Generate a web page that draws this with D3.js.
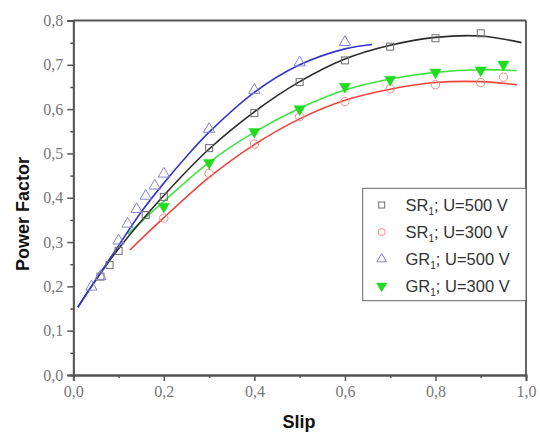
<!DOCTYPE html>
<html><head><meta charset="utf-8">
<script src="https://cdn.jsdelivr.net/npm/d3@7"></script>
<style>body{margin:0;background:#fff}svg{display:block}</style>
</head><body>
<svg id="c" width="540" height="437"></svg>
<script>
// ---- data ----
const xTicks = [0, 0.2, 0.4, 0.6, 0.8, 1.0];
const yTicks = [0, 0.1, 0.2, 0.3, 0.4, 0.5, 0.6, 0.7, 0.8];
const xTickLabels = ["0,0","0,2","0,4","0,6","0,8","1,0"];
const yTickLabels = ["0,0","0,1","0,2","0,3","0,4","0,5","0,6","0,7","0,8"];

const sr500X = [0.06,0.08,0.10,0.16,0.20,0.30,0.40,0.50,0.60,0.70,0.80,0.90];
const sr500Y = [0.222,0.248,0.280,0.361,0.402,0.512,0.591,0.661,0.710,0.741,0.760,0.771];
const sr300X = [0.20,0.30,0.40,0.50,0.60,0.70,0.80,0.90,0.95];
const sr300Y = [0.354,0.455,0.521,0.583,0.617,0.646,0.655,0.660,0.672];
const gr500X = [0.04,0.06,0.10,0.12,0.14,0.16,0.18,0.20,0.30,0.40,0.50,0.60];
const gr500Y = [0.199,0.223,0.303,0.341,0.374,0.404,0.427,0.454,0.555,0.643,0.705,0.751];
const gr300X = [0.20,0.30,0.40,0.50,0.60,0.70,0.80,0.90,0.95];
const gr300Y = [0.380,0.479,0.549,0.600,0.651,0.667,0.683,0.688,0.701];

// fitted curves
const fitSr500X = [0.01,0.05,0.10,0.20,0.30,0.40,0.50,0.60,0.70,0.80,0.90,0.99];
const fitSr500Y = [0.153,0.215,0.285,0.405,0.510,0.594,0.662,0.713,0.744,0.762,0.765,0.750];
const fitSr300X = [0.125,0.20,0.30,0.40,0.50,0.60,0.70,0.80,0.90,0.98];
const fitSr300Y = [0.282,0.355,0.446,0.520,0.578,0.620,0.645,0.660,0.662,0.655];
const fitGr500X = [0.01,0.05,0.10,0.15,0.20,0.25,0.30,0.40,0.50,0.60,0.66];
const fitGr500Y = [0.153,0.215,0.292,0.368,0.433,0.493,0.548,0.638,0.700,0.736,0.746];
const fitGr300X = [0.12,0.20,0.30,0.40,0.50,0.60,0.70,0.80,0.90,0.98];
const fitGr300Y = [0.318,0.392,0.480,0.548,0.602,0.643,0.668,0.683,0.689,0.687];

const legendLabels = [["SR","; U=500 V"],["SR","; U=300 V"],["GR","; U=500 V"],["GR","; U=300 V"]];

// ---- drawing ----
const svg = d3.select("#c");
const L = 73.3, R = 526, T = 20.5, B = 375;
const x = d3.scaleLinear().domain([0,1]).range([L,R]);
const y = d3.scaleLinear().domain([0,0.8]).range([B,T]);
const axisCol = "#555";
const tickFont = "'Liberation Serif','DejaVu Serif',serif";

// curves
const line = d3.line().x(d=>x(d[0])).y(d=>y(d[1])).curve(d3.curveCatmullRom.alpha(0.5));
const zip = (a,b)=>a.map((v,i)=>[v,b[i]]);
const curves = [
  [fitSr300X, fitSr300Y, "#e8453c"],
  [fitGr300X, fitGr300Y, "#44e044"],
  [fitSr500X, fitSr500Y, "#2a2a2a"],
  [fitGr500X, fitGr500Y, "#3535c8"]
];
curves.forEach(([xs,ys,c])=>{
  svg.append("path").attr("d", line(zip(xs,ys))).attr("fill","none")
     .attr("stroke", c).attr("stroke-width", 1.6);
});

// markers
function drawSquares(gg, pts, s){
  gg.selectAll(null).data(pts).enter().append("rect")
    .attr("x",d=>x(d[0])-s/2).attr("y",d=>y(d[1])-s/2)
    .attr("width",s).attr("height",s)
    .attr("fill","none").attr("stroke","#6f6f6f").attr("stroke-width",1);
}
function drawCircles(gg, pts, r){
  gg.selectAll(null).data(pts).enter().append("circle")
    .attr("cx",d=>x(d[0])).attr("cy",d=>y(d[1])).attr("r",r)
    .attr("fill","none").attr("stroke","#f08a8a").attr("stroke-width",1);
}
function drawTriUp(gg, pts, sz){
  const sym = d3.symbol().type(d3.symbolTriangle).size(sz);
  gg.selectAll(null).data(pts).enter().append("path")
    .attr("d", sym).attr("transform",d=>`translate(${x(d[0])},${y(d[1])})`)
    .attr("fill","none").attr("stroke","#8585d0").attr("stroke-width",1);
}
function drawTriDown(gg, pts, sz){
  const sym = d3.symbol().type(d3.symbolTriangle).size(sz);
  gg.selectAll(null).data(pts).enter().append("path")
    .attr("d", sym).attr("transform",d=>`translate(${x(d[0])},${y(d[1])}) rotate(180)`)
    .attr("fill","#1fdc1f").attr("stroke","#1fdc1f").attr("stroke-width",0.5);
}
const g = svg.append("g");
drawSquares(g, zip(sr500X, sr500Y), 7);
drawCircles(g, zip(sr300X, sr300Y), 4.2);
drawTriUp(g, zip(gr500X, gr500Y), 55);
drawTriDown(g, zip(gr300X, gr300Y), 55);

// axes
const xAxis = d3.axisBottom(x).tickValues(xTicks).tickSize(6).tickPadding(5)
  .tickFormat((d,i)=>xTickLabels[i]);
const yAxis = d3.axisLeft(y).tickValues(yTicks).tickSize(6).tickPadding(4)
  .tickFormat((d,i)=>yTickLabels[i]);
const xMinor = d3.axisBottom(x).tickValues(d3.range(0.1,1,0.2)).tickSize(3).tickFormat("");
const yMinor = d3.axisLeft(y).tickValues(d3.range(0.05,0.8,0.1)).tickSize(3).tickFormat("");

function style(sel){
  sel.selectAll("path.domain").attr("stroke",axisCol).attr("stroke-width",1.8);
  sel.selectAll(".tick line").attr("stroke",axisCol).attr("stroke-width",1.5);
  sel.selectAll(".tick text").attr("fill","#777").attr("font-family",tickFont).attr("font-size",16);
}
svg.append("g").attr("transform",`translate(0,${B})`).call(xMinor).call(style);
svg.append("g").attr("transform",`translate(${L},0)`).call(yMinor).call(style);
svg.append("g").attr("transform",`translate(0,${B})`).call(xAxis).call(style);
svg.append("g").attr("transform",`translate(${L},0)`).call(yAxis).call(style);
// top & right frame
svg.append("line").attr("x1",L).attr("x2",R).attr("y1",T).attr("y2",T).attr("stroke",axisCol).attr("stroke-width",1.8);
svg.append("line").attr("x1",R).attr("x2",R).attr("y1",T).attr("y2",B).attr("stroke",axisCol).attr("stroke-width",1.8);

// titles
svg.append("text").attr("x",299).attr("y",428).attr("text-anchor","middle")
  .attr("font-family","'Liberation Sans',Arial,sans-serif").attr("font-weight","bold")
  .attr("font-size",18).attr("fill","#111").text("Slip");
svg.append("text").attr("transform","translate(29,214) rotate(-90)").attr("text-anchor","middle")
  .attr("font-family","'Liberation Sans',Arial,sans-serif").attr("font-weight","bold")
  .attr("font-size",18).attr("fill","#111").text("Power Factor");

// legend
const lg = svg.append("g");
lg.append("rect").attr("x",362.7).attr("y",188.3).attr("width",R-362.7).attr("height",112.4)
  .attr("fill","#fff").attr("stroke","#666").attr("stroke-width",1);
const rowY = [205, 232, 259, 286];
const symX = 381.7;
drawSquares(lg.append("g"), [[x.invert(symX), y.invert(rowY[0])]], 6);
drawCircles(lg.append("g"), [[x.invert(symX), y.invert(rowY[1])]], 3.5);
drawTriUp(lg.append("g"), [[x.invert(symX), y.invert(rowY[2])]], 40);
drawTriDown(lg.append("g"), [[x.invert(symX), y.invert(rowY[3])]], 45);
legendLabels.forEach((lab,i)=>{
  const t = lg.append("text").attr("x",405.5).attr("y",rowY[i]+6)
    .attr("font-family","'Liberation Sans',Arial,sans-serif").attr("font-size",16.5).attr("fill","#333");
  t.append("tspan").text(lab[0]);
  t.append("tspan").attr("font-size",10).attr("dy",4).text("1");
  t.append("tspan").attr("dy",-4).text(lab[1]);
});
</script>
</body></html>
